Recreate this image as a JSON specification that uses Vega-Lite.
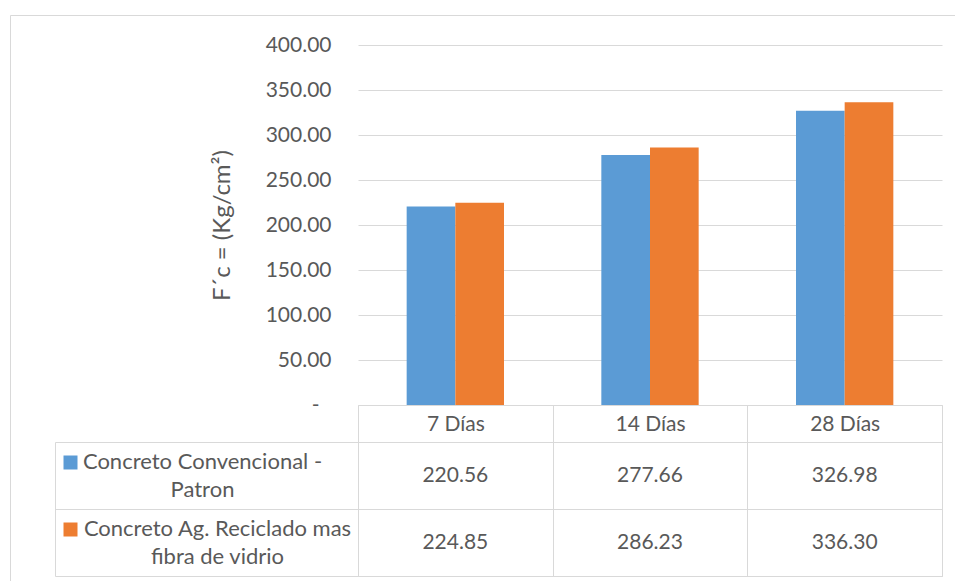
{
  "$schema": "https://vega.github.io/schema/vega-lite/v6.json",
  "padding": {"left": 9, "top": 14, "right": 0, "bottom": 0},
  "background": "white",
  "config": {
    "font": "Lato",
    "view": {"stroke": null},
    "axis": {"labelFont": "Lato", "titleFont": "Lato", "labelColor": "#595959", "titleColor": "#595959"}
  },
  "datasets": {
    "ensayos": [
      {"edad": "7 Días", "serie": "Concreto Convencional - Patron", "fc": 220.56},
      {"edad": "7 Días", "serie": "Concreto Ag. Reciclado mas fibra de vidrio", "fc": 224.85},
      {"edad": "14 Días", "serie": "Concreto Convencional - Patron", "fc": 277.66},
      {"edad": "14 Días", "serie": "Concreto Ag. Reciclado mas fibra de vidrio", "fc": 286.23},
      {"edad": "28 Días", "serie": "Concreto Convencional - Patron", "fc": 326.98},
      {"edad": "28 Días", "serie": "Concreto Ag. Reciclado mas fibra de vidrio", "fc": 336.30}
    ]
  },
  "data": {"name": "ensayos"},
  "bounds": "flush",
  "spacing": 37,
  "vconcat": [
    {
      "width": 584,
      "height": 360,
      "layer": [
        {
          "mark": {"type": "bar"},
          "encoding": {
            "x": {
              "field": "edad", "type": "nominal",
              "sort": ["7 Días", "14 Días", "28 Días"],
              "scale": {"paddingInner": 0, "paddingOuter": 0},
              "axis": {
                "orient": "bottom", "title": null,
                "domain": true, "domainColor": "#d9d9d9",
                "ticks": true, "tickBand": "extent", "tickSize": 37, "tickColor": "#d9d9d9",
                "grid": false, "labelAngle": 0,
                "labelFontSize": 21, "labelBaseline": "middle", "labelPadding": -18
              }
            },
            "xOffset": {
              "field": "serie", "type": "nominal",
              "sort": ["Concreto Convencional - Patron", "Concreto Ag. Reciclado mas fibra de vidrio"],
              "scale": {"paddingInner": 0, "paddingOuter": 1.116}
            },
            "y": {
              "field": "fc", "type": "quantitative",
              "scale": {"domain": [0, 400], "nice": false},
              "axis": {
                "orient": "left",
                "values": [0, 50, 100, 150, 200, 250, 300, 350, 400],
                "labelExpr": "datum.value === 0 ? '-' : format(datum.value, '.2f')",
                "domain": false, "ticks": false,
                "grid": true, "gridColor": "#d9d9d9",
                "labelFontSize": 21,
                "labelPadding": {"condition": {"test": "datum.value === 0", "value": 39}, "value": 27},
                "title": "F´c = (Kg/cm²)", "titleFontSize": 24, "titleFontWeight": "normal", "titlePadding": 31
              }
            },
            "color": {
              "field": "serie", "type": "nominal",
              "scale": {
                "domain": ["Concreto Convencional - Patron", "Concreto Ag. Reciclado mas fibra de vidrio"],
                "range": ["#5B9BD5", "#ED7D31"]
              },
              "legend": null
            }
          }
        },
        {
          "mark": {"type": "point", "opacity": 0},
          "encoding": {
            "x": {
              "field": "edad", "type": "nominal",
              "sort": ["7 Días", "14 Días", "28 Días"],
              "axis": {
                "orient": "top", "offset": 30, "title": null,
                "values": ["7 Días"], "bandPosition": 0, "tickOffset": -348,
                "tickSize": -566, "tickColor": "#d9d9d9",
                "domain": false, "labels": false, "grid": false
              }
            },
            "y": {
              "field": "fc", "type": "quantitative",
              "axis": {
                "orient": "left", "offset": 348, "title": null,
                "values": [400], "tickOffset": -30,
                "tickSize": -945, "tickColor": "#d9d9d9",
                "domain": false, "labels": false, "grid": false
              }
            }
          }
        }
      ],
      "resolve": {"axis": {"x": "independent", "y": "independent"}}
    },
    {
      "width": 584,
      "height": 134,
      "view": {"stroke": "#d9d9d9"},
      "layer": [
        {
          "mark": {"type": "text", "fontSize": 21, "color": "#595959", "font": "Lato", "baseline": "middle"},
          "encoding": {
            "x": {
              "field": "edad", "type": "nominal",
              "sort": ["7 Días", "14 Días", "28 Días"],
              "scale": {"paddingInner": 0, "paddingOuter": 0},
              "axis": {
                "title": null, "labels": false, "ticks": false, "domain": false,
                "grid": true, "gridColor": "#d9d9d9", "tickBand": "extent"
              }
            },
            "y": {
              "field": "serie", "type": "nominal",
              "sort": ["Concreto Convencional - Patron", "Concreto Ag. Reciclado mas fibra de vidrio"],
              "scale": {"paddingInner": 0, "paddingOuter": 0},
              "axis": {
                "orient": "left", "offset": 303, "title": null,
                "domain": true, "domainColor": "#d9d9d9",
                "ticks": true, "tickBand": "extent", "tickSize": -303, "tickColor": "#d9d9d9",
                "grid": true, "gridColor": "#d9d9d9",
                "labelExpr": "[substring(datum.label, 0, lastindexof(substring(datum.label, 0, 27), ' ')), substring(datum.label, lastindexof(substring(datum.label, 0, 27), ' ') + 1)]",
                "labelAlign": "center", "labelBaseline": "middle", "labelOffset": -14,
                "labelFontSize": 22, "labelLineHeight": 28, "labelLimit": 0,
                "labelPadding": {
                  "condition": {"test": "datum.value === 'Concreto Convencional - Patron'", "value": 156},
                  "value": 141
                }
              }
            },
            "text": {"field": "fc", "type": "quantitative", "format": ".2f"}
          }
        },
        {
          "mark": {"type": "point", "opacity": 0},
          "encoding": {
            "y": {
              "field": "serie", "type": "nominal",
              "sort": ["Concreto Convencional - Patron", "Concreto Ag. Reciclado mas fibra de vidrio"],
              "axis": {
                "orient": "left", "offset": 281, "title": null,
                "domain": false, "labels": false, "grid": false,
                "ticks": true, "tickSize": 14, "tickWidth": 14, "tickOffset": -14,
                "tickColor": {
                  "condition": {"test": "datum.value === 'Concreto Convencional - Patron'", "value": "#5B9BD5"},
                  "value": "#ED7D31"
                }
              }
            }
          }
        }
      ],
      "resolve": {"axis": {"y": "independent"}}
    }
  ]
}
